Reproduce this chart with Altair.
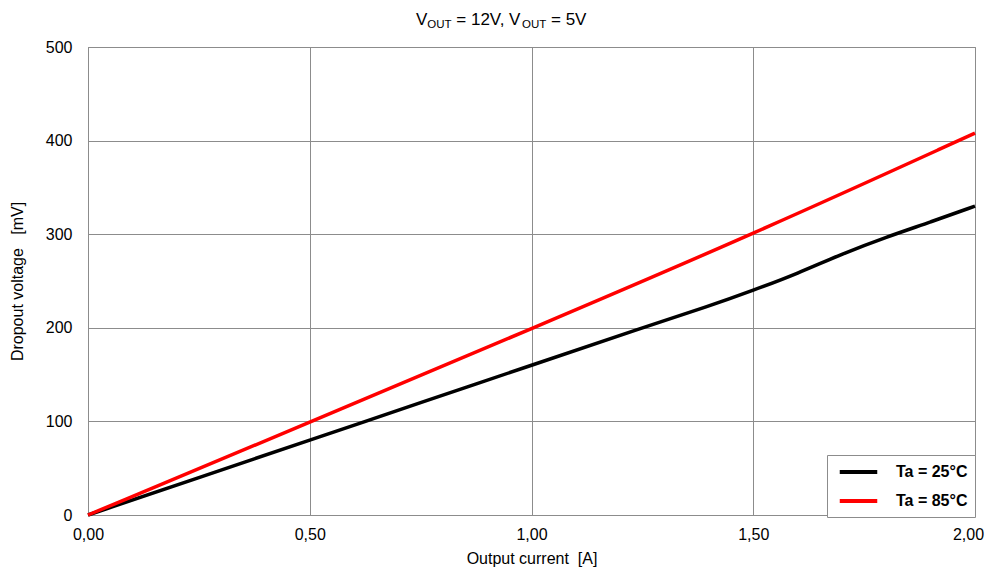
import altair as alt
import pandas as pd

current_25 = [0.0, 0.25, 0.5, 0.75, 1.0, 1.25, 1.4, 1.5, 1.6, 1.7, 1.8, 1.9, 2.0]
dropout_25 = [0, 40, 80, 120, 160, 200, 223, 240, 258, 279, 297, 313, 330]
current_85 = [0.0, 0.5, 1.0, 1.5, 2.0]
dropout_85 = [0, 99, 199, 300, 408]
series = ["Ta = 25°C", "Ta = 85°C"]
colors = ["#000000", "#ff0000"]
x_ticks = [0, 0.5, 1.0, 1.5, 2.0]
y_ticks = [0, 100, 200, 300, 400, 500]

df = pd.concat([
    pd.DataFrame({"I": current_25, "V": dropout_25, "s": series[0]}),
    pd.DataFrame({"I": current_85, "V": dropout_85, "s": series[1]}),
])

FONT = "Liberation Sans"
GRID = "#8c8c8c"
NB = "\u00a0"

lines = alt.Chart(df).mark_line(strokeWidth=3.5, interpolate="basis").encode(
    x=alt.X("I:Q", scale=alt.Scale(domain=[0, 2], nice=False),
            axis=alt.Axis(values=x_ticks, title=f"Output current{NB}{NB}[A]",
                          labelExpr="replace(format(datum.value, '.2f'), '.', ',')",
                          labelFlush=False, ticks=False, labelPadding=11, titlePadding=8,
                          labelOffset={"condition": {"test": "datum.value == 2", "value": -7},
                                       "value": 0})),
    y=alt.Y("V:Q", scale=alt.Scale(domain=[0, 500], nice=False),
            axis=alt.Axis(values=y_ticks, title=f"Dropout voltage{NB}{NB}{NB}[mV]",
                          ticks=False, labelPadding=16, titlePadding=20)),
    color=alt.Color("s:N", scale=alt.Scale(domain=series, range=colors),
                    legend=alt.Legend(title=None, orient="none", legendX=739, legendY=408,
                                      symbolType="M-2.5,0L2.5,0", symbolSize=225,
                                      symbolStrokeWidth=4,
                                      labelFontWeight="bold", labelFontSize=16, labelFont=FONT,
                                      labelColor="#000000",
                                      strokeColor=GRID, fillColor="white", padding=7.5,
                                      rowPadding=11, labelOffset=28, symbolOffset=14.5)),
    order=alt.Order("I:Q"),
)

title_parts = [
    ("V", 328, -22, 17),
    ("OUT", 339.3, -19, 11.5),
    ("= 12V, V", 368.3, -22, 17),
    ("OUT", 434, -19, 11.5),
    ("= 5V", 463, -22, 17),
]
title_layers = [
    alt.Chart(pd.DataFrame({"t": [t]})).mark_text(align="left", baseline="alphabetic",
                                                  font=FONT, fontSize=fs, color="#000000").encode(
        x=alt.value(px), y=alt.value(py), text="t:N")
    for t, px, py, fs in title_parts
]

chart = alt.layer(lines, *title_layers).properties(
    width=887, height=468,
    autosize=alt.AutoSizeParams(type="none"),
    padding={"left": 80, "top": 39, "right": 10, "bottom": 53},
).configure_axis(
    labelFont=FONT, titleFont=FONT, labelFontSize=16, titleFontSize=16,
    labelColor="#000000", titleColor="#000000", titleFontWeight="normal",
    gridColor=GRID, gridOpacity=1, gridWidth=1, domainColor=GRID, domainWidth=1,
).configure_view(stroke=GRID, strokeWidth=1)

chart.save("out.html", embed_options={"renderer": "svg", "actions": False})
